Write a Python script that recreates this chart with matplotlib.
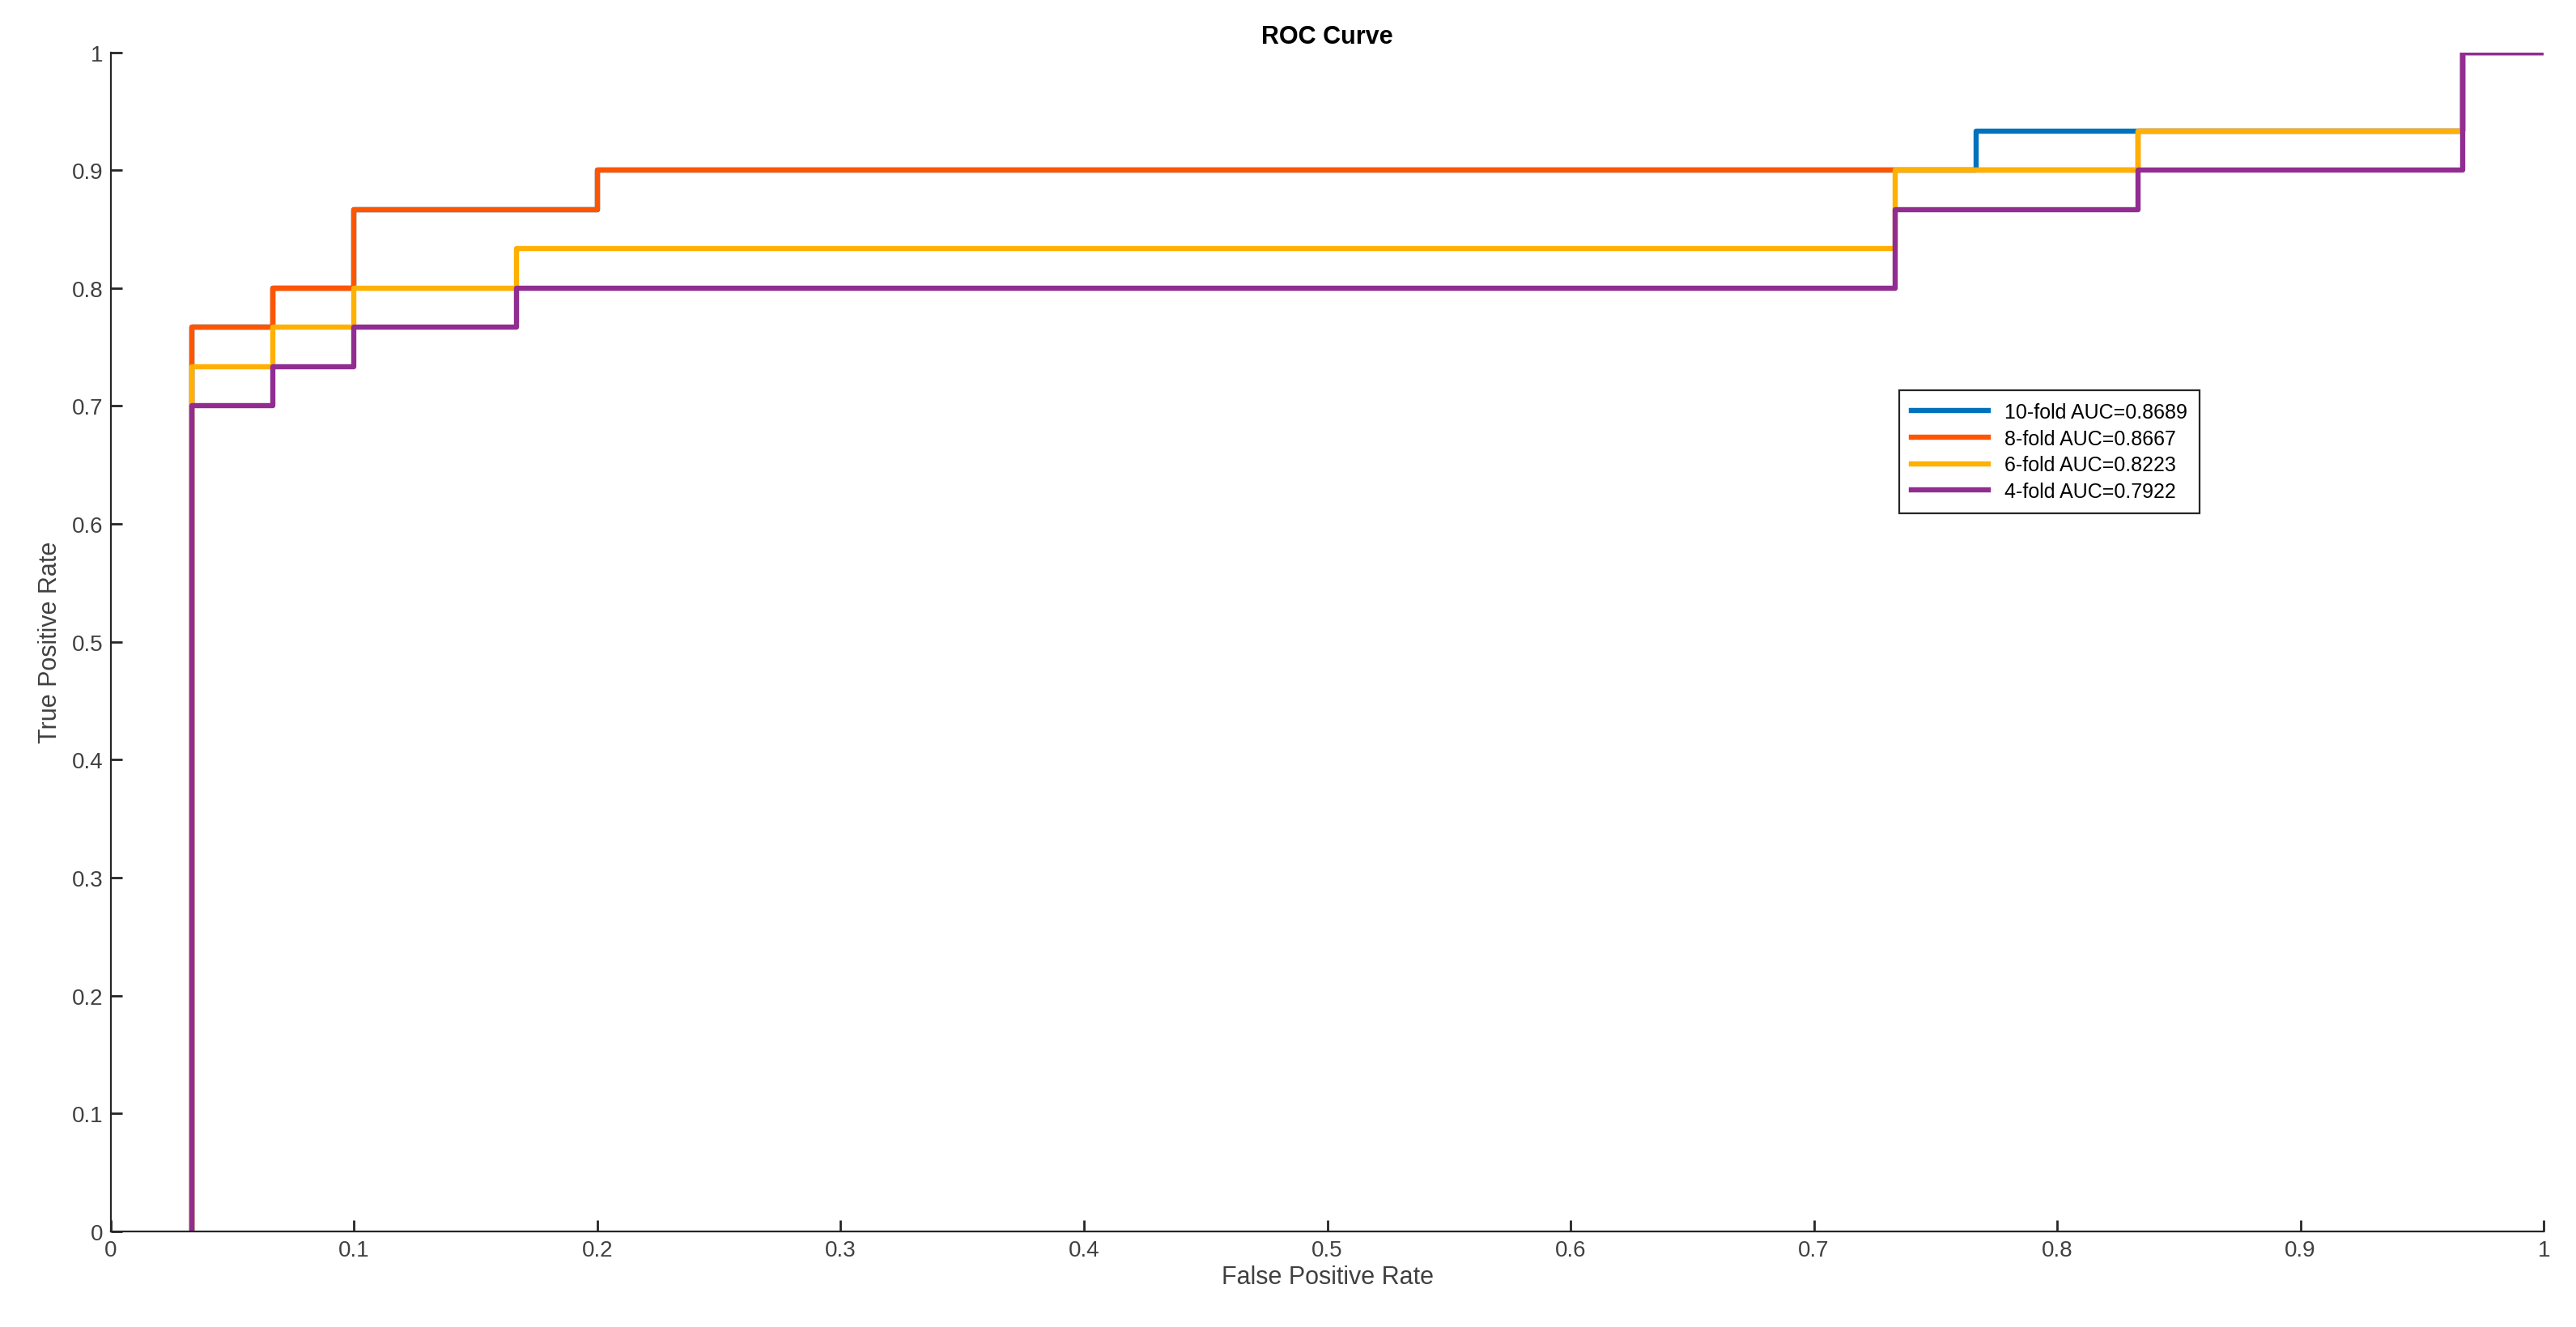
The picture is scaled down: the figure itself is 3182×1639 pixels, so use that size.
import matplotlib
matplotlib.use("Agg")
import matplotlib.pyplot as plt

plt.rcParams['font.family'] = ['Liberation Sans', 'DejaVu Sans']

labels = ["10-fold AUC=0.8689", "8-fold AUC=0.8667", "6-fold AUC=0.8223", "4-fold AUC=0.7922"]
colors = ["#0072BD", "#FF5500", "#FFB000", "#912D91"]

fpr_10 = [1/30, 1/30, 2/30, 3/30, 6/30, 23/30, 25/30, 29/30, 1.0]
tpr_10 = [0, 23/30, 24/30, 26/30, 27/30, 28/30, 28/30, 30/30, 1.0]
fpr_8 = [1/30, 1/30, 2/30, 3/30, 6/30, 25/30, 29/30, 1.0]
tpr_8 = [0, 23/30, 24/30, 26/30, 27/30, 28/30, 30/30, 1.0]
fpr_6 = [1/30, 1/30, 2/30, 3/30, 5/30, 22/30, 25/30, 29/30, 1.0]
tpr_6 = [0, 22/30, 23/30, 24/30, 25/30, 27/30, 28/30, 30/30, 1.0]
fpr_4 = [1/30, 1/30, 2/30, 3/30, 5/30, 22/30, 25/30, 29/30, 1.0]
tpr_4 = [0, 21/30, 22/30, 23/30, 24/30, 26/30, 27/30, 30/30, 1.0]

series = [(fpr_10, tpr_10), (fpr_8, tpr_8), (fpr_6, tpr_6), (fpr_4, tpr_4)]

fig = plt.figure(figsize=(15.91, 8.2), dpi=200)
ax = fig.add_axes([0.043, 0.072, 0.9445, 0.888])
for (x, y), c, l in zip(series, colors, labels):
    ax.step(x, y, where='post', color=c, lw=2.3, label=l)

ax.set_xlim(0, 1)
ax.set_ylim(0, 1)
ax.set_xticks([i/10 for i in range(11)])
ax.set_yticks([i/10 for i in range(11)])
ax.set_xticklabels(["0", "0.1", "0.2", "0.3", "0.4", "0.5", "0.6", "0.7", "0.8", "0.9", "1"])
ax.set_yticklabels(["0", "0.1", "0.2", "0.3", "0.4", "0.5", "0.6", "0.7", "0.8", "0.9", "1"])
ax.tick_params(direction='in', length=5, width=1, labelsize=10, colors='#262626', labelcolor='#404040')
for s in ['top', 'right']:
    ax.spines[s].set_visible(False)
for s in ['left', 'bottom']:
    ax.spines[s].set_color('#262626')
ax.set_xlabel("False Positive Rate", fontsize=11, color='#404040', labelpad=2)
ax.set_ylabel("True Positive Rate", fontsize=11, color='#404040', labelpad=4)
ax.set_title("ROC Curve", fontsize=11, fontweight='bold', pad=4)
leg = ax.legend(loc='upper left', bbox_to_anchor=(0.731, 0.722), fontsize=9,
                frameon=True, fancybox=False, edgecolor='#262626', framealpha=1,
                handlelength=3.8, borderpad=0.6, labelspacing=0.35)
leg.get_frame().set_linewidth(0.8)
fig.savefig("out.png", dpi=200)
